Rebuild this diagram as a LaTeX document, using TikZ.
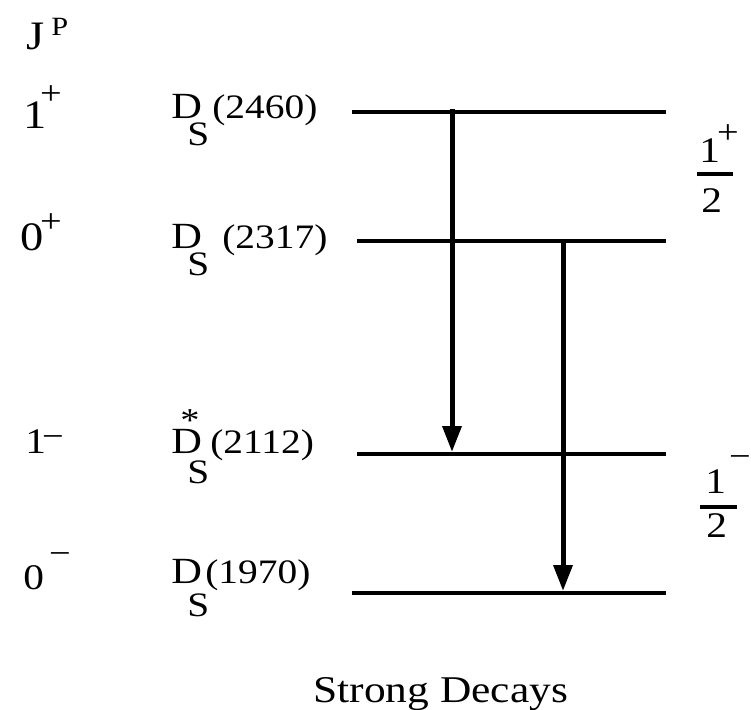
\documentclass[tikz,border=0pt]{standalone}
\usepackage{fontspec}
\setmainfont[FakeStretch=1.15]{Liberation Serif}
\usetikzlibrary{arrows.meta}

\tikzset{
  lvline/.style={line width=0.08cm},
  decay/.style={line width=0.1cm, shorten >=0.04cm, -{Triangle[length=0.52cm,width=0.37cm]}},
  txt/.style={anchor=base west, inner sep=0pt},
  sgn/.style={inner sep=0pt, font=\fontsize{19}{22}\selectfont},
  big/.style={font=\fontsize{23}{26}\selectfont},
  mid/.style={font=\fontsize{19.5}{22}\selectfont},
  frac/.style={txt, font=\fontsize{20.5}{23}\selectfont},
  dee/.style={txt, font=\fontsize{21}{24}\selectfont},
}

\begin{document}
\begin{tikzpicture}[x=0.02cm,y=-0.02cm]
        \useasboundingbox (0,0) rectangle (751,710);

        % J^P header
        \node[txt, font=\fontsize{23}{26}\selectfont] (jj) at (26,50) {J};
        \node[txt, font=\fontsize{15}{17}\selectfont] (jp) at (51,35) {P};

        % levels
        \foreach \n/\xa/\y in {2460/352/112, 2317/357/241, 2112/357/454, 1970/352/593} {
          \coordinate (w\n) at (\xa,\y);
          \coordinate (e\n) at (666,\y);
          \draw[lvline] (w\n) -- (e\n);
        }

        % state names
        \foreach \n/\yb/\ys/\xm in {2460/118/145/212, 2317/248/275/222, 2112/453/483/210, 1970/583/616/205} {
          \node[dee] (d\n) at (171,\yb) {D};
          \node[txt, mid] (s\n) at (187,\ys) {S};
          \node[txt, mid] (m\n) at (\xm,\yb) {(\n)};
        }
        \node[sgn] (star) at (190,421) {*};

        % spin and parity
        \node[txt, big] (q1p) at (23,128) {1};
        \node[sgn] (q1ps) at (51,95) {+};
        \node[txt, big] (q0p) at (20,250) {0};
        \node[sgn] (q0ps) at (51,223) {+};
        \node[txt, frac] (q1m) at (25,453) {1};
        \node[sgn, anchor=base] (q1ms) at (53,447) {−};
        \node[txt, frac] (q0m) at (23,589) {0};
        \node[sgn, anchor=base] (q0ms) at (60,564) {−};

        % light degrees of freedom
        \node[frac] (hp) at (699,162) {1};
        \node[sgn] (hps) at (728,134) {+};
        \node[frac] (hpd) at (701,212) {2};
        \draw[line width=0.09cm] (697,174) -- (733,174);
        \node[frac] (hm) at (705,493) {1};
        \node[sgn, anchor=base] (hms) at (740,467) {−};
        \node[frac] (hmd) at (706,537) {2};
        \draw[line width=0.09cm] (700,507) -- (737,507);

        % strong decays
        \coordinate (t1) at (452,109);
        \coordinate (t2) at (563,243);
        \draw[decay] (t1) -- (t1 |- w2112);
        \draw[decay] (t2) -- (t2 |- w1970);

        \node[txt, font=\fontsize{21.5}{24}\selectfont] (title) at (313,702) {Strong Decays};
\end{tikzpicture}
\end{document}
